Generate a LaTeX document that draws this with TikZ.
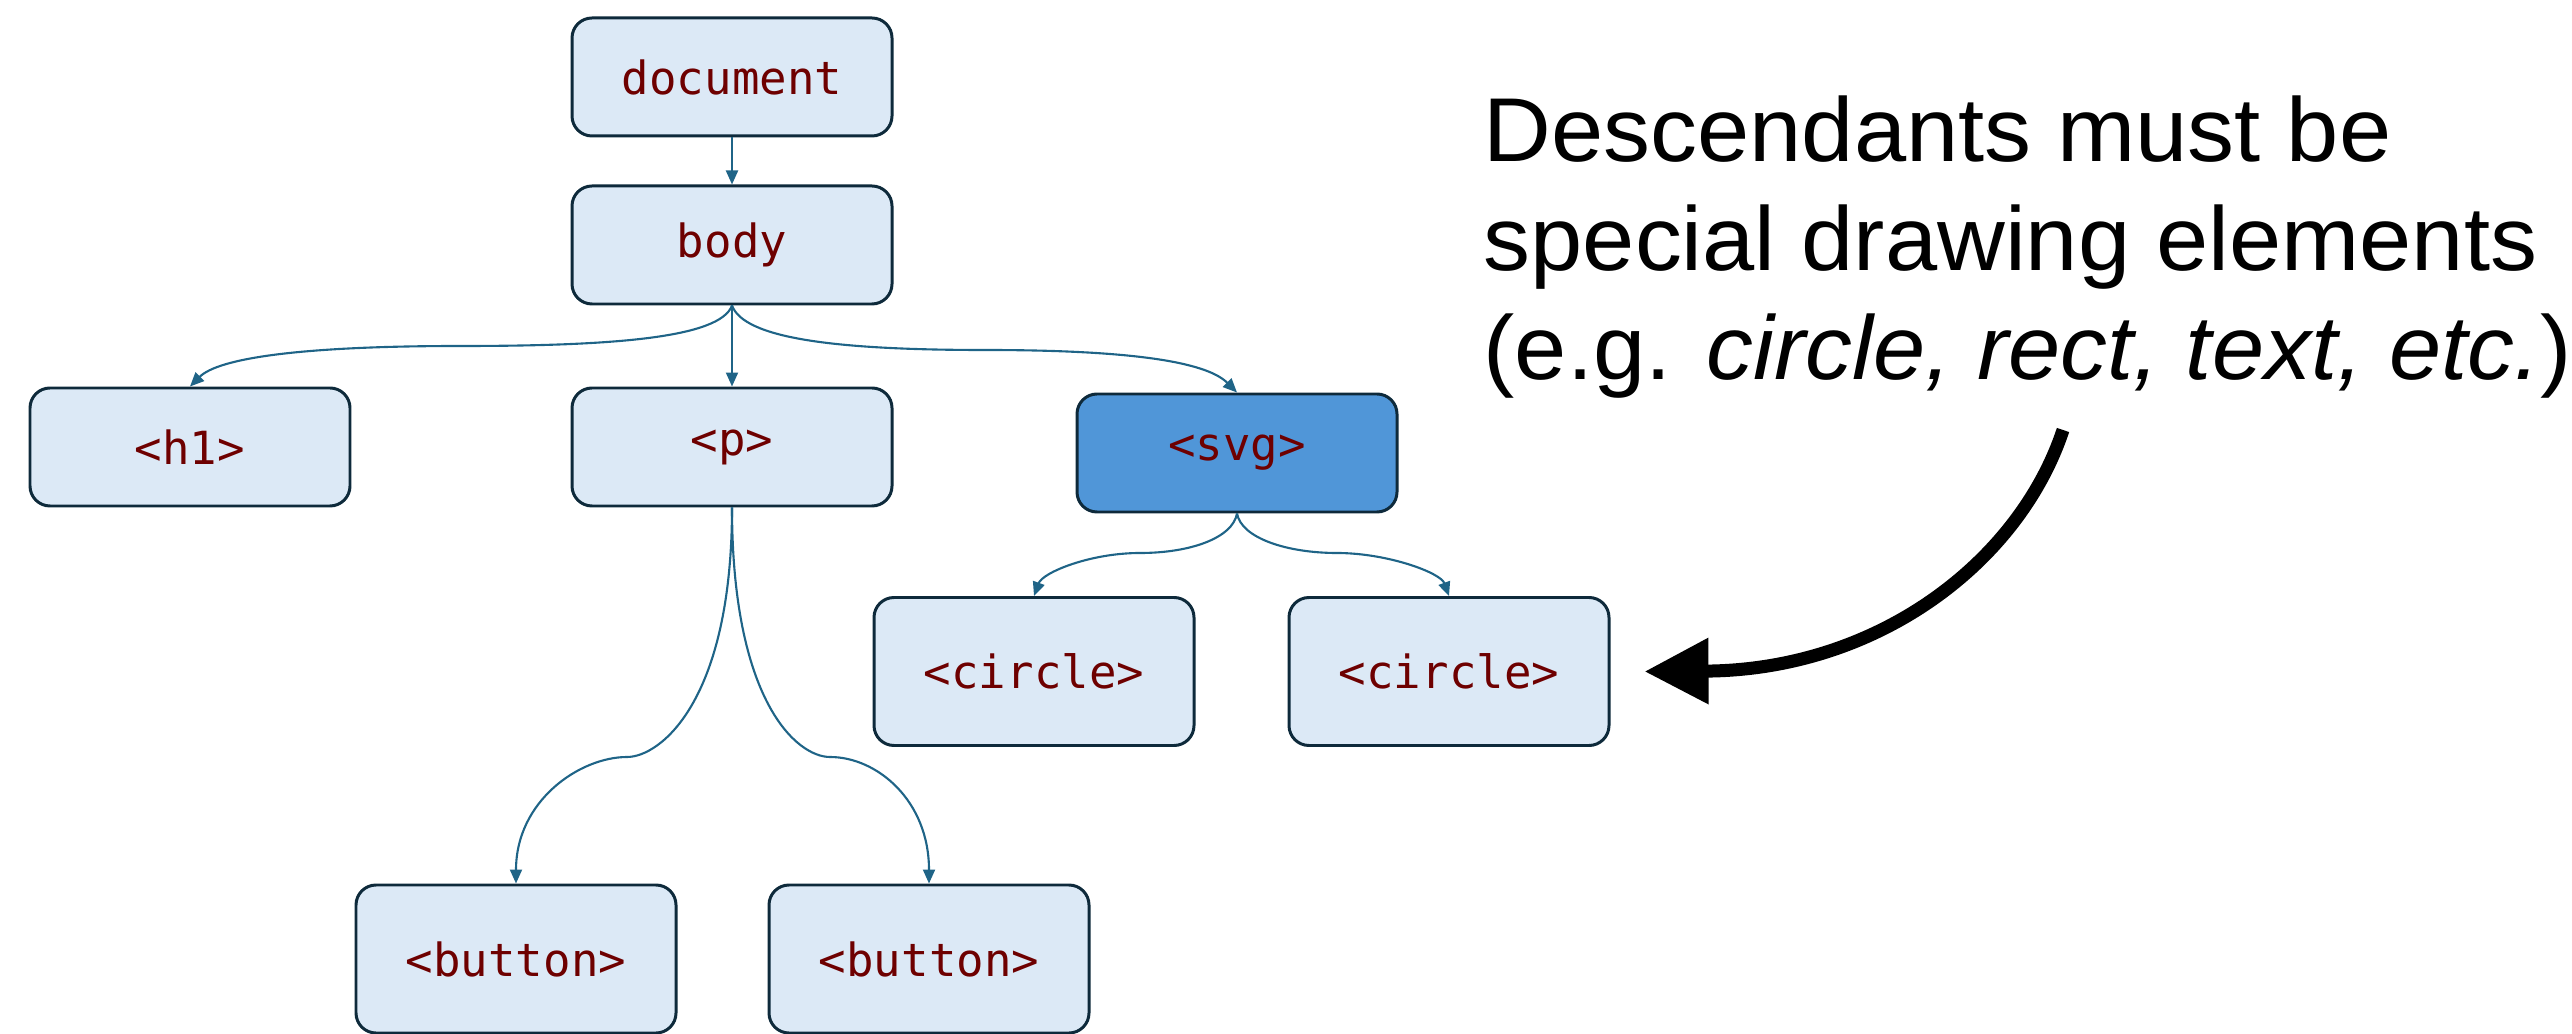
\documentclass[tikz,border=0pt]{standalone}
\usepackage{fontspec}
\newfontfamily\tagfont{DejaVu Sans Mono}
\newfontfamily\notefont[FakeStretch=1.035]{Liberation Sans}
\usetikzlibrary{arrows.meta}
\definecolor{tagfill}{HTML}{DCE9F6}
\definecolor{svgfill}{HTML}{5096D8}
\definecolor{tagline}{HTML}{0E2A3B}
\definecolor{tagtext}{HTML}{6E0000}
\definecolor{linkcol}{HTML}{1F6487}
\tikzset{
  elem/.style={draw=tagline, line width=0.85pt, fill=tagfill, rounded corners=0.2cm,
    minimum width=3.2cm, minimum height=1.18cm, inner sep=0pt, text=tagtext,
    font=\tagfont\fontsize{13}{15}\selectfont},
  tallelem/.style={elem, minimum height=1.48cm},
  link/.style={draw=linkcol, line width=0.6pt, -{Triangle[length=1.4mm, width=1.2mm]}},
}

\begin{document}
\begin{tikzpicture}
  \useasboundingbox (0,0) rectangle (25.72,10.33);
  % DOM tree
  \node[elem] (doc) at (7.32,9.56) {document};
  \node[elem] (body) at (7.32,7.88) {body};
  \node[elem] (h1) at (1.90,5.86) {<h1>};
  \node[elem] (p) at (7.32,5.86) {<p>};
  \node[elem, fill=svgfill] (svg) at (12.37,5.80) {<svg>};
  \node[tallelem] (c1) at (10.34,3.615) {<circle>};
  \node[tallelem] (c2) at (14.49,3.615) {<circle>};
  \node[tallelem] (b1) at (5.16,0.74) {<button>};
  \node[tallelem] (b2) at (9.29,0.74) {<button>};
  % bends of the links
  \coordinate (bodyL) at (4.60,6.87);
  \coordinate (bodyR) at (9.85,6.83);
  \coordinate (svgL) at (11.40,4.80);
  \coordinate (svgR) at (13.37,4.80);
  \coordinate (pL) at (6.27,2.76);
  \coordinate (pR) at (8.30,2.76);
  % links
  \draw[link] (doc) -- (body);
  \draw[link] (body) -- (p);
  \draw[link] (body.south) to[out=-110, in=0, out distance=0.35cm, in distance=1.5cm] (bodyL)
    to[out=180, in=45, out distance=1.6cm, in distance=0.4cm] (h1.north);
  \draw[link] (body.south) to[out=-70, in=180, out distance=0.35cm, in distance=1.5cm] (bodyR)
    to[out=0, in=135, out distance=1.6cm, in distance=0.4cm] (svg.north);
  \draw[link] (svg.south) to[out=-100, in=0, out distance=0.25cm, in distance=0.5cm] (svgL)
    to[out=180, in=70, out distance=0.5cm, in distance=0.25cm] (c1.north);
  \draw[link] (svg.south) to[out=-80, in=180, out distance=0.25cm, in distance=0.5cm] (svgR)
    to[out=0, in=110, out distance=0.5cm, in distance=0.25cm] (c2.north);
  \draw[link] (p.south) to[out=-90, in=0, out distance=1.94cm, in distance=0.33cm] (pL)
    to[out=180, in=90, out distance=0.47cm, in distance=0.83cm] (b1.north);
  \draw[link] (p.south) to[out=-90, in=180, out distance=1.94cm, in distance=0.33cm] (pR)
    to[out=0, in=90, out distance=0.47cm, in distance=0.83cm] (b2.north);
  % note
  \node[anchor=base west, align=left, inner sep=0pt,
    font=\notefont\fontsize{25.8}{31.1}\selectfont] (note) at (14.83,6.53)
    {Descendants must be\\special drawing elements\\(e.g. \textit{circle, rect, text, etc.})};
  \coordinate (tail) at (20.63,6.03);
  \draw[line width=3.7pt, -{Triangle[length=6.4mm, width=6.3mm]}] (tail)
    .. controls (20.20,4.73) and (18.80,3.63) .. ([xshift=3.4mm]c2.east);
\end{tikzpicture}
\end{document}
